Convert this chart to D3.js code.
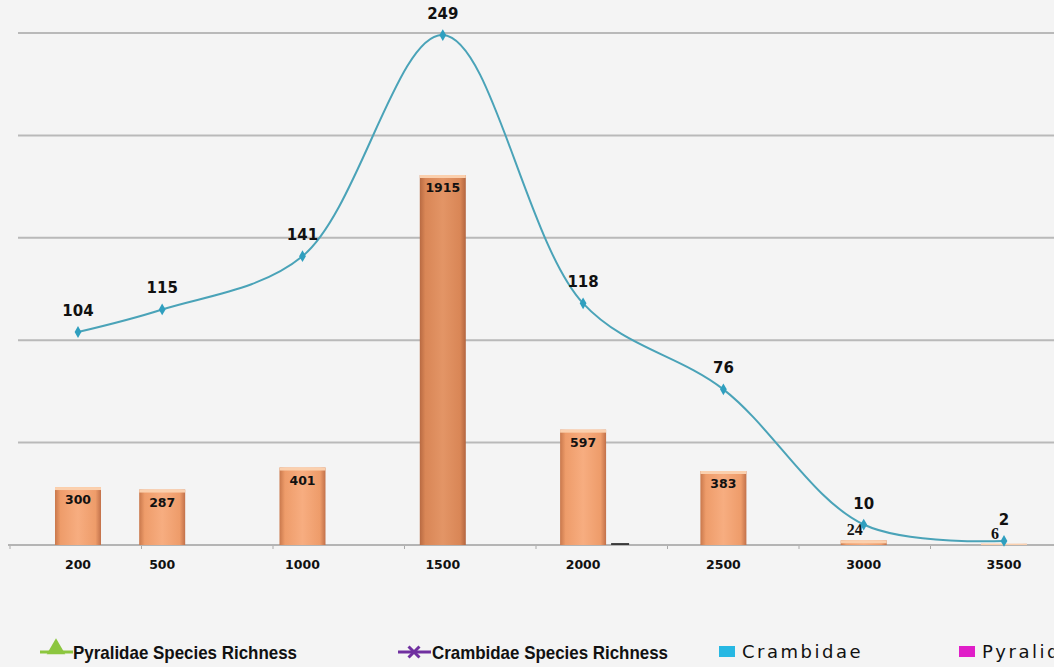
<!DOCTYPE html>
<html>
<head>
<meta charset="utf-8">
<script src="https://cdn.jsdelivr.net/npm/d3@7"></script>
<style>
  html, body { margin: 0; padding: 0; background: #f4f4f4; }
  svg { display: block; }
</style>
</head>
<body>
<svg id="chart" width="1054" height="667"></svg>
<script>
// ---- data ----
const elevations = [200, 500, 1000, 1500, 2000, 2500, 3000, 3500];
const categoryLabels = ["200", "500", "1000", "1500", "2000", "2500", "3000", "3500"];
const crambidaeCounts = [300, 287, 401, 1915, 597, 383, 24, 6];
const pyralidaeCounts = [0, 0, 0, 0, 10, 0, 0, 0];
const speciesRichness = [104, 115, 141, 249, 118, 76, 10, 2];
const legendLabels = ["Pyralidae Species Richness", "Crambidae Species Richness", "Crambidae", "Pyralidae"];

(function () {
// ---- layout ----
const W = 1054;
const baseY = 545, topY = 33;
const svg = d3.select("#chart");

const x = d3.scaleLinear().domain([200, 3500]).range([78, 1004]);
const tickBand = d3.scaleBand().domain(categoryLabels).range([10, 1062]).padding(0);
const yBar = d3.scaleLinear().domain([0, 2650]).range([baseY, topY]);
const yLine = d3.scaleLinear().domain([0, 250]).range([baseY, topY]);
const gridTicks = d3.range(0, 251, 50);

// gradients
const defs = svg.append("defs");
const g1 = defs.append("linearGradient").attr("id", "barGrad").attr("x1", 0).attr("x2", 1).attr("y1", 0).attr("y2", 0);
[[0, "#c9784c"], [0.12, "#ee9c6a"], [0.5, "#f7ad80"], [0.88, "#ee9c6a"], [1, "#c2714a"]]
  .forEach(([o, c]) => g1.append("stop").attr("offset", o).attr("stop-color", c));
const g2 = defs.append("linearGradient").attr("id", "barGradDark").attr("x1", 0).attr("x2", 1).attr("y1", 0).attr("y2", 0);
[[0, "#b86a42"], [0.12, "#d98656"], [0.5, "#e39566"], [0.88, "#d98656"], [1, "#b3653f"]]
  .forEach(([o, c]) => g2.append("stop").attr("offset", o).attr("stop-color", c));

// gridlines (secondary scale steps)
svg.append("g").selectAll("line").data(gridTicks.filter(d => d > 0)).join("line")
  .attr("x1", 18).attr("x2", W)
  .attr("y1", d => yLine(d)).attr("y2", d => yLine(d))
  .attr("stroke", "#b9b9b9").attr("stroke-width", 2);

// category axis (baseline + small ticks)
const axisG = svg.append("g").attr("transform", `translate(0,${baseY})`)
  .call(d3.axisBottom(tickBand).tickSize(4).tickFormat(""));
axisG.select(".domain").remove();
axisG.selectAll(".tick line").attr("stroke", "#aaa")
  .attr("transform", `translate(${-tickBand.bandwidth() / 2},0)`);
svg.append("line").attr("x1", 8).attr("x2", W).attr("y1", baseY).attr("y2", baseY)
  .attr("stroke", "#b4b4b4").attr("stroke-width", 2);

// bars: Crambidae
const bw = 46;
const bars = svg.append("g");
bars.selectAll("rect.c").data(crambidaeCounts).join("rect").attr("class", "c")
  .attr("x", (d, i) => x(elevations[i]) - bw / 2)
  .attr("width", bw)
  .attr("y", d => yBar(d))
  .attr("height", d => baseY - yBar(d))
  .attr("fill", d => d > 1000 ? "url(#barGradDark)" : "url(#barGrad)");
bars.selectAll("rect.cap").data(crambidaeCounts).join("rect").attr("class", "cap")
  .attr("x", (d, i) => x(elevations[i]) - bw / 2)
  .attr("width", bw)
  .attr("y", d => yBar(d))
  .attr("height", d => Math.min(3, baseY - yBar(d)))
  .attr("fill", "#fbd0ae");

// bars: Pyralidae (tiny)
bars.selectAll("rect.p").data(pyralidaeCounts).join("rect").attr("class", "p")
  .attr("x", (d, i) => x(elevations[i]) + bw / 2 + 5)
  .attr("width", 18)
  .attr("y", d => yBar(d))
  .attr("height", d => baseY - yBar(d))
  .attr("fill", "#3a3a3a");

// bar labels
svg.append("g").selectAll("text").data(crambidaeCounts).join("text")
  .attr("x", (d, i) => x(elevations[i]) + (d < 50 ? -9 : 0))
  .attr("y", d => d < 50 ? yBar(d) - 5 : yBar(d) + 17)
  .attr("text-anchor", "middle")
  .attr("font-family", d => d < 50 ? "Liberation Serif, serif" : "DejaVu Sans, Verdana, sans-serif")
  .attr("font-weight", "bold")
  .attr("font-size", d => d < 50 ? 16 : 12.5)
  .attr("fill", "#111")
  .text(d => d);

// category labels
svg.append("g").selectAll("text").data(categoryLabels).join("text")
  .attr("x", (d, i) => x(elevations[i]))
  .attr("y", 569)
  .attr("text-anchor", "middle")
  .attr("font-family", "DejaVu Sans, Verdana, sans-serif")
  .attr("font-weight", "bold")
  .attr("font-size", 12.5)
  .attr("fill", "#111")
  .text(d => d);

// species richness line
const pts = speciesRichness.map((v, i) => [x(elevations[i]), yLine(v)]);
svg.append("path")
  .attr("d", d3.line().curve(d3.curveCatmullRom.alpha(0.5))(pts))
  .attr("fill", "none").attr("stroke", "#4aa3b8").attr("stroke-width", 2);
svg.append("g").selectAll("path").data(pts).join("path")
  .attr("d", d3.symbol(d3.symbolDiamond, 40))
  .attr("transform", d => `translate(${d[0]},${d[1]})`)
  .attr("fill", "#2f9fbf");
svg.append("g").selectAll("text").data(speciesRichness).join("text")
  .attr("x", (d, i) => x(elevations[i]))
  .attr("y", d => yLine(d) - 16)
  .attr("text-anchor", "middle")
  .attr("font-family", "DejaVu Sans, Tahoma, sans-serif")
  .attr("font-weight", "bold")
  .attr("font-size", 15)
  .attr("fill", "#111")
  .text(d => d);

// legend
const ly = 652;
const leg = svg.append("g");
leg.append("line").attr("x1", 40).attr("x2", 73).attr("y1", ly).attr("y2", ly)
  .attr("stroke", "#8cc63f").attr("stroke-width", 3);
leg.append("path").attr("d", d3.symbol(d3.symbolTriangle, 150))
  .attr("transform", `translate(56,${ly - 3})`).attr("fill", "#8cc63f");
leg.append("line").attr("x1", 398).attr("x2", 431).attr("y1", ly).attr("y2", ly)
  .attr("stroke", "#7030a0").attr("stroke-width", 3);
leg.append("path").attr("d", d3.symbol(d3.symbolX, 80))
  .attr("transform", `translate(414,${ly})`).attr("fill", "none")
  .attr("stroke", "#7030a0").attr("stroke-width", 3);
leg.append("rect").attr("x", 719).attr("y", ly - 6).attr("width", 16).attr("height", 11).attr("fill", "#27b8e3");
leg.append("rect").attr("x", 959).attr("y", ly - 6).attr("width", 16).attr("height", 11).attr("fill", "#e01ec8");

leg.selectAll("text.s").data(legendLabels.slice(0, 2)).join("text").attr("class", "s")
  .attr("x", (d, i) => [73, 432][i])
  .attr("y", ly + 7)
  .attr("font-family", "Liberation Sans Narrow, Arial Narrow, Liberation Sans, sans-serif")
  .attr("font-weight", "bold")
  .attr("font-size", 19)
  .attr("textLength", (d, i) => [224, 236][i])
  .attr("lengthAdjust", "spacingAndGlyphs")
  .attr("fill", "#111")
  .text(d => d);
leg.selectAll("text.b").data(legendLabels.slice(2)).join("text").attr("class", "b")
  .attr("x", (d, i) => [742, 982][i])
  .attr("y", ly + 6)
  .attr("font-family", "DejaVu Sans, Verdana, sans-serif")
  .attr("font-size", 18)
  .attr("letter-spacing", 2.5)
  .attr("fill", "#111")
  .text(d => d);
})();
</script>
</body>
</html>
